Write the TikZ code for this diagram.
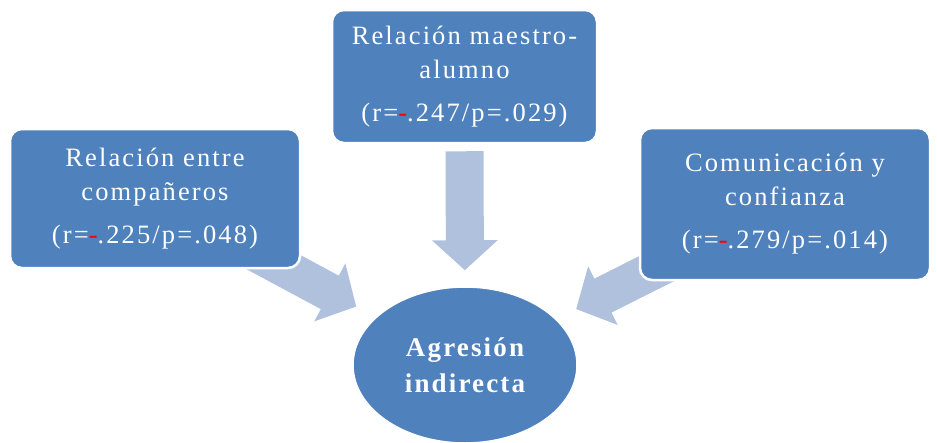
\documentclass[tikz,border=0pt]{standalone}
\usepackage{fontspec}
\setmainfont{Liberation Serif}[LetterSpace=8]
\usetikzlibrary{arrows.meta,shapes.geometric,backgrounds}
\definecolor{boxblue}{RGB}{79,129,189}
\definecolor{arrowblue}{RGB}{176,193,222}
\begin{document}
\begin{tikzpicture}[x=1pt,y=-1pt,
  box/.style={draw=white, line width=2.5pt, fill=boxblue, rounded corners=12pt,
    text=white, align=center, font=\fontsize{26.5}{34}\selectfont, inner sep=0pt},
  fat/.style={draw=arrowblue, line width=38pt,
    -{Triangle[width=64pt,length=30pt]}}]
\useasboundingbox (0,0) rectangle (937,442);
\node[box, minimum width=290pt, minimum height=139pt] (left) at (155,198.5)
  {Relación entre\\compañeros\\[9pt](r=\textcolor{red}{-}.225/p=.048)};
\node[box, minimum width=265pt, minimum height=133pt] (mid) at (464.5,76.5)
  {Relación maestro-\\alumno\\[9pt](r=\textcolor{red}{-}.247/p=.029)};
\node[box, minimum width=290pt, minimum height=152pt] (right) at (785,204)
  {Comunicación y\\confianza\\[9pt](r=\textcolor{red}{-}.279/p=.014)};
\node[ellipse, draw=white, line width=1.5pt, fill=boxblue, text=white,
  minimum width=224pt, minimum height=156pt, inner sep=0pt, align=center,
  font=\fontsize{27}{36}\selectfont\bfseries] (ell) at (465,365)
  {Agresión\\indirecta};
\begin{scope}[on background layer]
\draw[fat, shorten >=22pt] (left.center) -- (ell);
\draw[fat, shorten <=7pt, shorten >=16pt] (mid) -- (ell);
\draw[fat, shorten >=22pt] (right.center) -- (ell);
\end{scope}
\end{tikzpicture}
\end{document}
